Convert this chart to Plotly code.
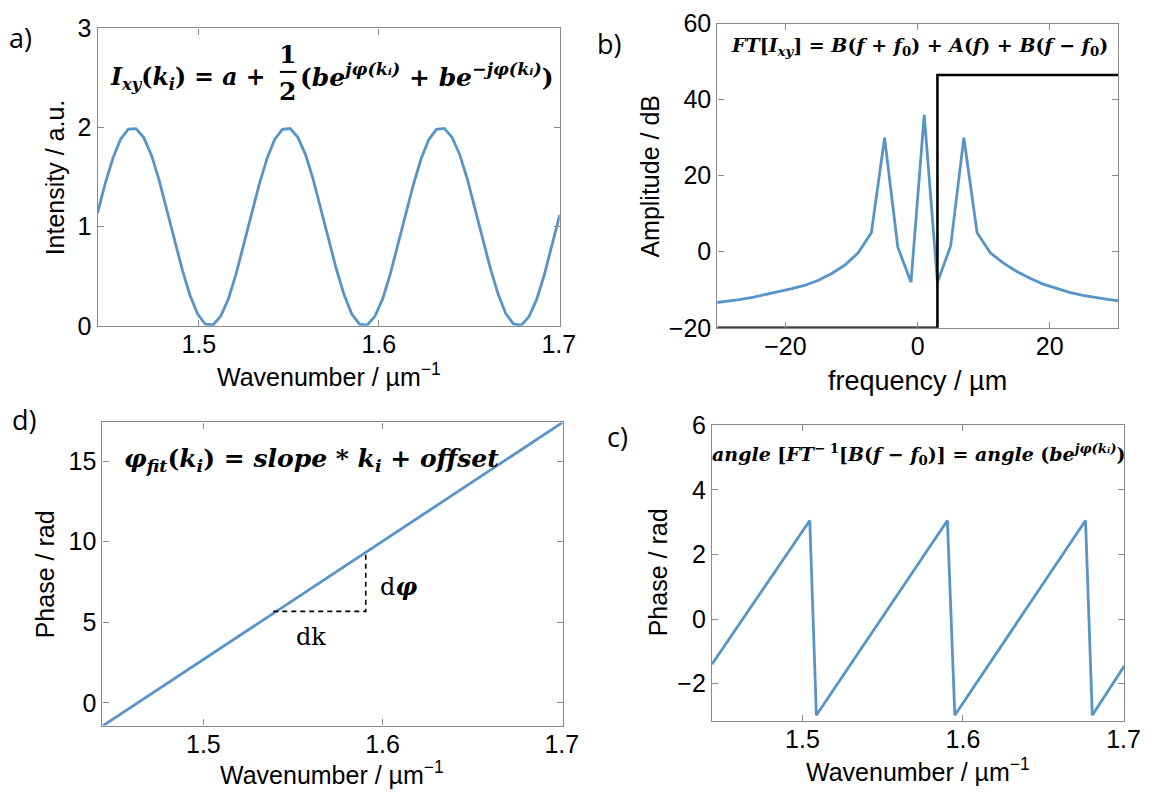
import plotly.graph_objects as go

# ---------------- data ----------------
# panel a: interferogram intensity vs wavenumber
k_a = [1.4437, 1.4480, 1.4523, 1.4565, 1.4608, 1.4651, 1.4694, 1.4737, 1.4779, 1.4822,
       1.4865, 1.4908, 1.4951, 1.4993, 1.5036, 1.5079, 1.5122, 1.5165, 1.5207, 1.5250,
       1.5293, 1.5336, 1.5379, 1.5421, 1.5464, 1.5507, 1.5550, 1.5593, 1.5635, 1.5678,
       1.5721, 1.5764, 1.5807, 1.5849, 1.5892, 1.5935, 1.5978, 1.6021, 1.6063, 1.6106,
       1.6149, 1.6192, 1.6235, 1.6277, 1.6320, 1.6363, 1.6406, 1.6449, 1.6491, 1.6534,
       1.6577, 1.6620, 1.6663, 1.6705, 1.6748, 1.6791, 1.6834, 1.6877, 1.6919, 1.6962,
       1.7005]
intensity = [1.140, 1.439, 1.695, 1.883, 1.985, 1.990, 1.899, 1.720, 1.471, 1.176,
             0.863, 0.564, 0.307, 0.119, 0.016, 0.009, 0.099, 0.277, 0.526, 0.821,
             1.133, 1.433, 1.690, 1.880, 1.983, 1.991, 1.902, 1.725, 1.477, 1.183,
             0.870, 0.571, 0.313, 0.122, 0.017, 0.008, 0.096, 0.272, 0.520, 0.814,
             1.126, 1.426, 1.685, 1.877, 1.982, 1.992, 1.905, 1.730, 1.484, 1.190,
             0.878, 0.577, 0.318, 0.125, 0.019, 0.007, 0.093, 0.267, 0.513, 0.807,
             1.119]

# panel b: spectrum amplitude (dB) and window
freq = [-31, -29, -27, -25, -23, -21, -19, -17, -15, -13, -11, -9, -7, -5, -3, -1,
        1, 3, 5, 7, 9, 11, 13, 15, 17, 19, 21, 23, 25, 27, 29, 31]
amp_db = [-13.5, -13.1, -12.6, -12.0, -11.3, -10.5, -9.7, -8.8, -7.5, -5.7, -3.5, -0.3, 5.0, 30.0, 1.2, -8.0,
          36.0, -8.0, 1.5, 30.0, 5.0, -0.3, -3.0, -5.2, -7.0, -8.5, -9.7, -10.7, -11.5, -12.1, -12.6, -13.0]
win_f = [-31, 3, 3, 31]
win_db = [-20, -20, 46.5, 46.5]

# panel c: wrapped phase (sawtooth vertices)
k_c = [1.4437, 1.5046, 1.5087, 1.5903, 1.5949, 1.6763, 1.6805, 1.7005]
phase_wrapped = [-1.40, 3.05, -2.98, 3.05, -2.98, 3.05, -2.98, -1.45]

# panel d: unwrapped linear phase + slope triangle
k_d = [1.4437, 1.7005]
phase_fit = [-1.43, 17.40]
tri_k = [1.539, 1.5906, 1.5906]
tri_phase = [5.68, 5.68, 9.30]

# ---------------- style ----------------
W, H = 1168, 811
BLUE = "#5794c8"
GRAY = "#8a8a8a"
SANS = "Liberation Sans"
SERIF = "DejaVu Serif"


def px(x):
    return x / W


def py(y):
    return 1 - y / H


fig = go.Figure()
fig.add_trace(go.Scatter(x=k_a, y=intensity, mode="lines", line=dict(color=BLUE, width=2.8),
                         xaxis="x", yaxis="y", showlegend=False))
fig.add_trace(go.Scatter(x=freq, y=amp_db, mode="lines", line=dict(color=BLUE, width=2.8),
                         xaxis="x2", yaxis="y2", showlegend=False))
fig.add_trace(go.Scatter(x=win_f, y=win_db, mode="lines", line=dict(color="black", width=2.6),
                         xaxis="x2", yaxis="y2", showlegend=False))
fig.add_trace(go.Scatter(x=k_d, y=phase_fit, mode="lines", line=dict(color=BLUE, width=2.8),
                         xaxis="x3", yaxis="y3", showlegend=False))
fig.add_trace(go.Scatter(x=tri_k, y=tri_phase, mode="lines",
                         line=dict(color="black", width=1.6, dash="5px,4px"),
                         xaxis="x3", yaxis="y3", showlegend=False))
fig.add_trace(go.Scatter(x=k_c, y=phase_wrapped, mode="lines", line=dict(color=BLUE, width=2.8),
                         xaxis="x4", yaxis="y4", showlegend=False))


def ax(domain, rng, tickvals, anchor, standoff=0):
    return dict(domain=domain, range=rng, tickvals=tickvals, anchor=anchor,
                showgrid=False, zeroline=False, showline=True, linecolor=GRAY, linewidth=1.3,
                mirror="ticks", ticks="inside", ticklen=6, tickcolor=GRAY, tickwidth=1.2,
                ticklabelstandoff=standoff,
                tickfont=dict(family=SANS, size=25, color="black"))


k_range = [1.4437, 1.7005]
fig.update_layout(
    xaxis=ax([px(99), px(568)], k_range, [1.5, 1.6, 1.7], "y", -4),
    yaxis=ax([py(323), py(15)], [0, 3], [0, 1, 2, 3], "x"),
    xaxis2=ax([px(728), px(1135)], [-30.3, 30.4], [-20, 0, 20], "y2", -4),
    yaxis2=ax([py(325), py(10)], [-20, 60], [-20, 0, 20, 40, 60], "x2"),
    xaxis3=ax([px(104), px(571)], k_range, [1.5, 1.6, 1.7], "y3", -4),
    yaxis3=ax([py(737), py(423)], [-1.4, 17.4], [0, 5, 10, 15], "x3"),
    xaxis4=ax([px(722.5), px(1141)], k_range, [1.5, 1.6, 1.7], "y4", -4),
    yaxis4=ax([py(732), py(426)], [-3.15, 6], [-2, 0, 2, 4, 6], "x4"),
)

ann = []


def text(x, y, s, size, family=SANS, angle=0, xanchor="center", yanchor="middle"):
    ann.append(dict(x=px(x), y=py(y), xref="paper", yref="paper", text=s, showarrow=False,
                    textangle=angle, xanchor=xanchor, yanchor=yanchor,
                    font=dict(family=family, size=size, color="black")))


# panel letters
for lab, x, y in [("a)", 21, 24), ("b)", 618, 31), ("d)", 24, 420), ("c)", 627, 438)]:
    text(x, y, lab, 27, family="Open Sans")

# axis titles
text(56, 169, "Intensity / a.u.", 25, angle=-90)
text(660, 168, "Amplitude / dB", 25, angle=-90)
text(46, 580, "Phase / rad", 25, angle=-90)
text(668, 578, "Phase / rad", 25, angle=-90)
text(334, 374, "Wavenumber / µm<sup>−1</sup>", 25)
text(931, 380, "frequency / µm", 27)
text(337, 786, "Wavenumber / µm<sup>−1</sup>", 25)
text(932, 783, "Wavenumber / µm<sup>−1</sup>", 25)

# equation, panel a
text(110, 67, "<b><i>I</i></b><sub><b><i>xy</i></b></sub><b>(<i>k</i></b><sub><b><i>i</i></b></sub>"
              "<b>) = <i>a</i> + </b>", 23.5, family=SERIF, xanchor="left")
text(292, 42, "<b>1</b>", 25, family=SERIF)
text(292, 80, "<b>2</b>", 25, family=SERIF)
text(302, 64, "<b>(<i>be</i></b><sup><b><i>jφ(kᵢ)</i></b></sup><b> + <i>be</i></b>"
              "<sup><b><i>−jφ(kᵢ)</i></b></sup><b>)</b>", 25, family=SERIF, xanchor="left")

# equation, panel b
text(933, 34, "<b><i>FT</i>[<i>I</i></b><sub><b><i>xy</i></b></sub><b>] = <i>B</i>(<i>f</i> + <i>f</i></b>"
              "<sub><b>0</b></sub><b>) + <i>A</i>(<i>f</i>) + <i>B</i>(<i>f</i> − <i>f</i></b>"
              "<sub><b>0</b></sub><b>)</b>", 19, family=SERIF)

# equation, panel d
text(316, 462, "<b><i>φ</i></b><sub><b><i>fit</i></b></sub><b>(<i>k</i></b><sub><b><i>i</i></b></sub>"
               "<b>) = <i>slope</i> * <i>k</i></b><sub><b><i>i</i></b></sub><b> + <i>offset</i></b>",
     25, family=SERIF)
text(404, 593, "d<b><i>φ</i></b>", 24, family=SERIF)
text(316, 645, "dk", 24, family=SERIF)

# equation, panel c
text(933, 456, "<b><i>angle</i> [<i>FT</i></b><sup><b>− 1</b></sup><b>[<i>B</i>(<i>f</i> − <i>f</i></b>"
               "<sub><b>0</b></sub><b>)] = <i>angle</i> (<i>be</i></b><sup><b><i>jφ(kᵢ)</i></b></sup><b>)</b>",
     19, family=SERIF)

fig.update_layout(
    annotations=ann,
    shapes=[dict(type="line", xref="paper", yref="paper", x0=px(284), x1=px(301), y0=py(60), y1=py(60),
                 line=dict(color="black", width=2))],
    width=W, height=H, margin=dict(l=0, r=0, t=0, b=0),
    paper_bgcolor="white", plot_bgcolor="white", showlegend=False,
)

fig.write_html("out.html")
